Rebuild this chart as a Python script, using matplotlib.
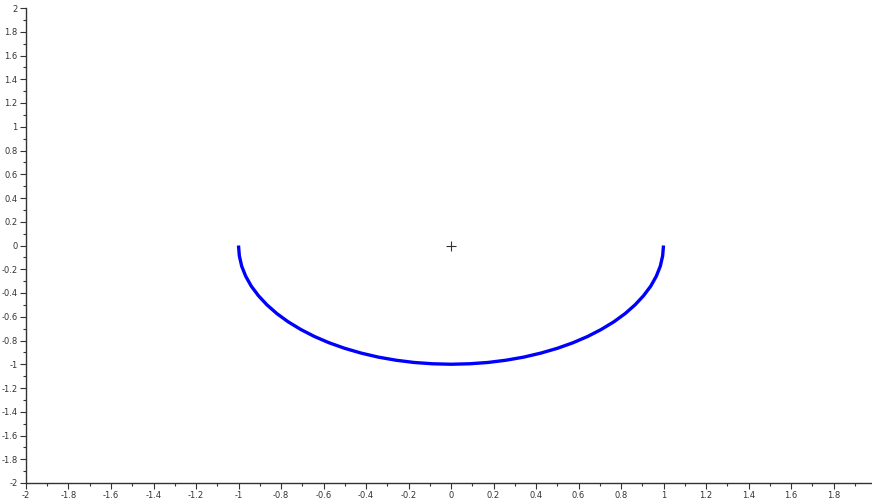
import numpy as np
import matplotlib
matplotlib.use('Agg')
import matplotlib.pyplot as plt
from matplotlib.ticker import MultipleLocator, FuncFormatter

# points (lower half circle)
curve_x = [-1.0, -0.996, -0.985, -0.966, -0.940, -0.906, -0.866, -0.819, -0.766,
           -0.707, -0.643, -0.574, -0.500, -0.423, -0.342, -0.259, -0.174, -0.087,
           0.0, 0.087, 0.174, 0.259, 0.342, 0.423, 0.500, 0.574, 0.643, 0.707,
           0.766, 0.819, 0.866, 0.906, 0.940, 0.966, 0.985, 0.996, 1.0]
curve_y = [0.0, -0.087, -0.174, -0.259, -0.342, -0.423, -0.500, -0.574, -0.643,
           -0.707, -0.766, -0.819, -0.866, -0.906, -0.940, -0.966, -0.985, -0.996,
           -1.0, -0.996, -0.985, -0.966, -0.940, -0.906, -0.866, -0.819, -0.766,
           -0.707, -0.643, -0.574, -0.500, -0.423, -0.342, -0.259, -0.174, -0.087, 0.0]
center_x = [0.0]
center_y = [0.0]

plt.rcParams['axes.unicode_minus'] = False
fig = plt.figure(figsize=(8.72, 4.99), dpi=100)
ax = fig.add_axes([26/872, 16/499, 850/872, 475/499])

ax.plot(curve_x, curve_y, color='#0000ff', lw=2.4, solid_capstyle='butt', zorder=3)
ax.plot(center_x, center_y, marker='+', color='#333333', ms=7, mew=0.8, ls='none')

ax.set_xlim(-2, 2)
ax.set_ylim(-2, 2)
for s in ['top', 'right']:
    ax.spines[s].set_visible(False)
for s in ['left', 'bottom']:
    ax.spines[s].set_color('#333333')
    ax.spines[s].set_linewidth(1)

fmt = FuncFormatter(lambda v, p: '%g' % round(v, 1))
xfmt = FuncFormatter(lambda v, p: '' if v > 1.95 else '%g' % round(v, 1))
ax.xaxis.set_major_locator(MultipleLocator(0.2))
ax.yaxis.set_major_locator(MultipleLocator(0.2))
ax.xaxis.set_minor_locator(MultipleLocator(0.1))
ax.yaxis.set_minor_locator(MultipleLocator(0.1))
ax.xaxis.set_major_formatter(xfmt)
ax.yaxis.set_major_formatter(fmt)
ax.tick_params(which='major', length=4, width=0.8, color='#333333',
               labelsize=6, labelcolor='#333333', pad=2)
ax.tick_params(which='minor', length=2, width=0.8, color='#333333')

fig.savefig('out.png', dpi=100)
